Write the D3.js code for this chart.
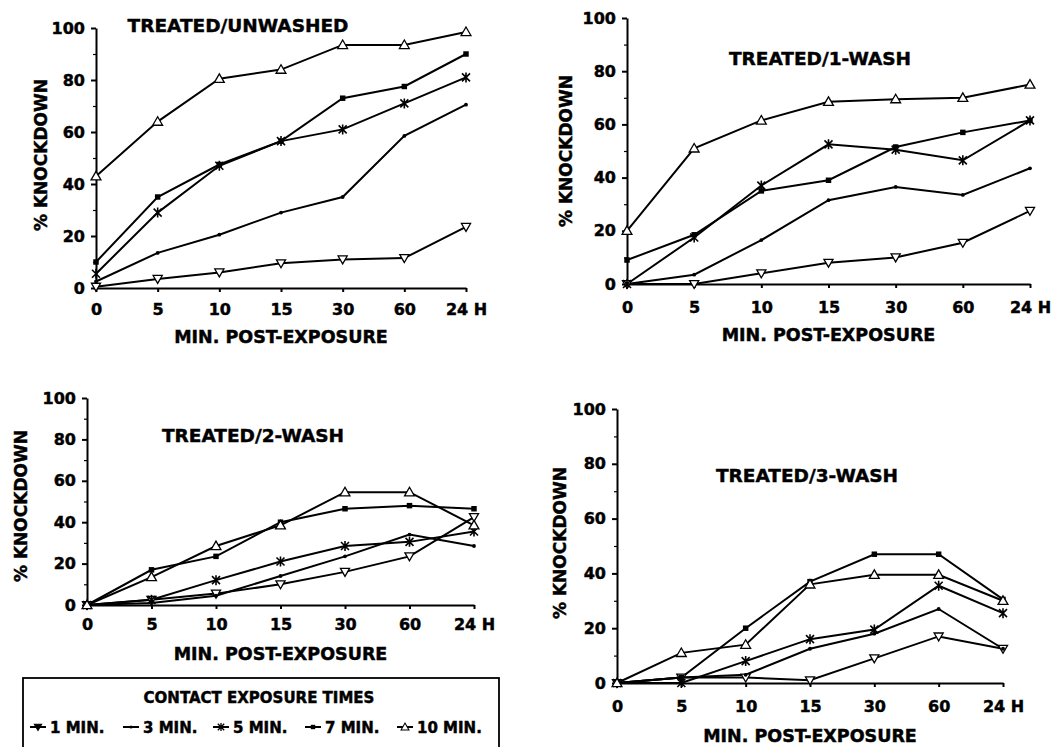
<!DOCTYPE html>
<html>
<head>
<meta charset="utf-8">
<script src="https://cdn.jsdelivr.net/npm/d3@7"></script>
<style>
  html, body { margin: 0; padding: 0; background: #fff; }
  svg { display: block; }
  text { font-family: "DejaVu Sans", sans-serif; font-weight: bold; fill: #000; stroke: #000; stroke-width: 0.45px; }
</style>
</head>
<body>
<svg id="chart" width="1059" height="747"></svg>
<script>
// time points after exposure, shared by all four panels
const timeLabels = ["0", "5", "10", "15", "30", "60", "24 H"];
const seriesNames = ["1 MIN.", "3 MIN.", "5 MIN.", "7 MIN.", "10 MIN."];
const seriesMarkers = ["down", "dot", "star", "square", "up"];

// % knockdown, one row per contact exposure time (1, 3, 5, 7, 10 min)
const unwashed = [
  [0.5, 3.5, 6, 9.5, 11, 11.5, 23.5],
  [2.5, 13.5, 20.5, 29, 35, 58.5, 70.5],
  [5.5, 29, 47, 56.5, 61, 71, 81],
  [10, 35, 47.5, 56.5, 73, 77.5, 90],
  [43, 64, 80.5, 84, 93.5, 93.5, 98.5],
];
const wash1 = [
  [0, 0, 4, 8, 10, 15.5, 27.5],
  [0, 3.5, 16.5, 31.5, 36.5, 33.5, 43.5],
  [0, 17.5, 37, 52.5, 50.5, 46.5, 61.5],
  [9, 18.5, 35, 39, 51.5, 57, 61.5],
  [20, 51, 61.5, 68.5, 69.5, 70, 75],
];
const wash2 = [
  [0, 2.5, 5.5, 10, 16, 23.5, 42.5],
  [0, 1, 4.5, 14, 23.5, 34, 28.5],
  [0, 2.5, 12, 21, 28.5, 30.5, 35.5],
  [0, 17, 23.5, 40, 46.5, 48, 46.5],
  [0, 13.5, 28.5, 38.5, 54.5, 54.5, 38.5],
];
const wash3 = [
  [0, 2, 2, 1, 9, 17, 12.5],
  [0, 2, 3, 12.5, 18, 27, 12.5],
  [0, 0, 8, 16, 19.5, 35.5, 25.5],
  [0, 2, 20, 37, 47, 47, 30.5],
  [0, 11, 14, 36, 39.5, 39.5, 30],
];
const panelTitles = ["TREATED/UNWASHED", "TREATED/1-WASH", "TREATED/2-WASH", "TREATED/3-WASH"];
const yTicks = [0, 20, 40, 60, 80, 100];
const yMinorTicks = [10, 30, 50, 70, 90];

// layout of each panel on the page
const panels = [
  { data: unwashed, x0: 96, x1: 466, yTop: 28, yBot: 288, tx: 238, ty: 32, lab: 27, xt: 343, yl: [47, 155] },
  { data: wash1, x0: 627, x1: 1030, yTop: 18, yBot: 284, tx: 820, ty: 65, lab: 29, xt: 341, yl: [572, 151] },
  { data: wash2, x0: 87, x1: 474, yTop: 398, yBot: 605, tx: 253, ty: 442, lab: 25, xt: 660, yl: [27, 506] },
  { data: wash3, x0: 617, x1: 1003, yTop: 409, yBot: 683, tx: 807, ty: 482, lab: 29, xt: 742, yl: [566, 543] },
];

const svg = d3.select("#chart");

const starPath = (r) => {
  const d = r * 0.8;
  return `M${-d},${-d}L${d},${d}M${-d},${d}L${d},${-d}M0,${-r}L0,${r}`;
};

function drawMarker(sel, type, filled) {
  switch (type) {
    case "up":
      sel.append("path")
        .attr("d", d3.symbol(d3.symbolTriangle, 42)())
        .attr("transform", "translate(0,0.8)")
        .attr("fill", "#fff").attr("stroke", "#000").attr("stroke-width", 1.3);
      break;
    case "down":
      sel.append("path")
        .attr("d", d3.symbol(d3.symbolTriangle, 36)())
        .attr("transform", "translate(0,-0.8) rotate(180)")
        .attr("fill", filled ? "#000" : "#fff").attr("stroke", "#000").attr("stroke-width", 1.3);
      break;
    case "square":
      sel.append("path")
        .attr("d", d3.symbol(d3.symbolSquare, 30)())
        .attr("fill", "#000");
      break;
    case "star":
      sel.append("path")
        .attr("d", starPath(5))
        .attr("stroke", "#000").attr("stroke-width", 1.6).attr("fill", "none");
      break;
    default:
      sel.append("circle").attr("r", 1.9).attr("fill", "#000");
  }
}

panels.forEach((p, i) => {
  const x = d3.scalePoint(timeLabels, [p.x0, p.x1]);
  const y = d3.scaleLinear([0, 100], [p.yBot, p.yTop]);
  const g = svg.append("g");

  // y axis
  g.append("g")
    .attr("transform", `translate(${p.x0},0)`)
    .call(d3.axisLeft(y).tickValues(yTicks).tickSize(5).tickSizeOuter(0).tickPadding(6))
    .call((a) => a.attr("font-family", null).attr("font-size", 16))
    .call((a) => a.selectAll("path, line").attr("stroke", "#000").attr("stroke-width", 2));
  g.append("g")
    .attr("transform", `translate(${p.x0},0)`)
    .call(d3.axisLeft(y).tickValues(yMinorTicks).tickSize(3).tickFormat(""))
    .call((a) => a.select(".domain").remove())
    .call((a) => a.selectAll("line").attr("stroke", "#000").attr("stroke-width", 1.2));

  // x axis
  g.append("g")
    .attr("transform", `translate(0,${p.yBot})`)
    .call(d3.axisBottom(x).tickSize(4).tickSizeOuter(0))
    .call((a) => a.attr("font-family", null).attr("font-size", 16))
    .call((a) => a.selectAll("path, line").attr("stroke", "#000").attr("stroke-width", 2))
    .call((a) => a.selectAll("text").attr("dy", "0").attr("y", p.lab));

  // titles
  g.append("text")
    .attr("x", p.tx).attr("y", p.ty)
    .attr("text-anchor", "middle").attr("font-size", 18.5)
    .text(panelTitles[i]);
  g.append("text")
    .attr("x", (p.x0 + p.x1) / 2).attr("y", p.xt)
    .attr("text-anchor", "middle").attr("font-size", 17.5)
    .text("MIN. POST-EXPOSURE");
  g.append("text")
    .attr("transform", `translate(${p.yl[0]},${p.yl[1]}) rotate(-90)`)
    .attr("text-anchor", "middle").attr("font-size", 17)
    .text("% KNOCKDOWN");

  // series
  const line = d3.line().x((d, j) => x(timeLabels[j])).y((d) => y(d));
  p.data.forEach((values) => {
    g.append("path")
      .attr("d", line(values))
      .attr("fill", "none").attr("stroke", "#000").attr("stroke-width", 2);
  });
  p.data.forEach((values, s) => {
    g.append("g")
      .selectAll("g")
      .data(values)
      .join("g")
      .attr("transform", (d, j) => `translate(${x(timeLabels[j])},${y(d)})`)
      .each(function () { drawMarker(d3.select(this), seriesMarkers[s]); });
  });
});

// legend
const legend = svg.append("g");
legend.append("rect")
  .attr("x", 23).attr("y", 678).attr("width", 476).attr("height", 100)
  .attr("fill", "none").attr("stroke", "#000").attr("stroke-width", 1.8);
legend.append("text")
  .attr("x", 259).attr("y", 703)
  .attr("text-anchor", "middle").attr("font-size", 15)
  .text("CONTACT EXPOSURE TIMES");
const legendX = [30, 123, 213, 305, 397];
seriesNames.forEach((name, s) => {
  const item = legend.append("g").attr("transform", `translate(${legendX[s]},727)`);
  item.append("line").attr("x1", 0).attr("x2", 16)
    .attr("stroke", "#000").attr("stroke-width", 2);
  const m = item.append("g").attr("transform", "translate(8,0) scale(0.8)");
  drawMarker(m, seriesMarkers[s], true);
  item.append("text").attr("x", 20).attr("y", 6).attr("font-size", 15).text(name);
});
</script>
</body>
</html>
